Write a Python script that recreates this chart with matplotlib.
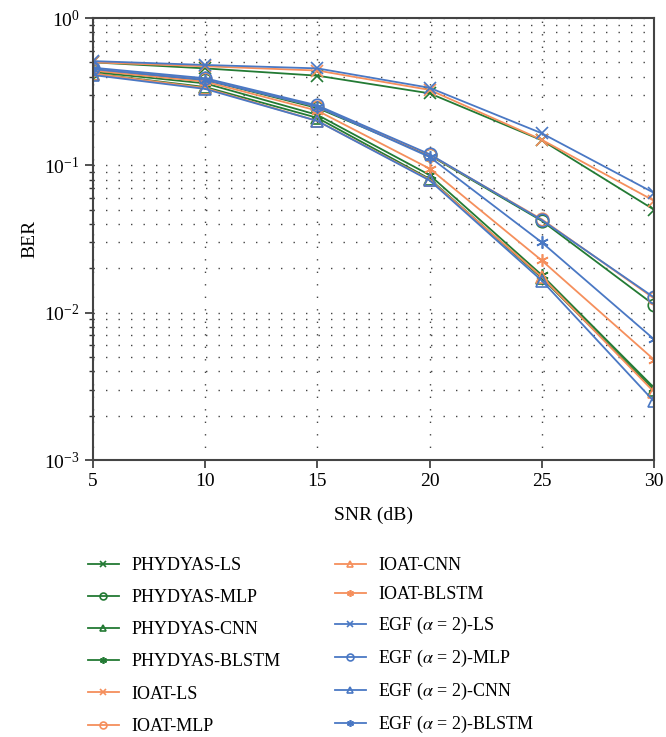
import matplotlib
matplotlib.use("Agg")
import matplotlib.pyplot as plt
import numpy as np

plt.rcParams['font.family'] = ['Liberation Serif', 'DejaVu Serif']
plt.rcParams['mathtext.fontset'] = 'stix'

snr = [5, 10, 15, 20, 25, 30]

labels = ["PHYDYAS-LS", "PHYDYAS-MLP", "PHYDYAS-CNN", "PHYDYAS-BLSTM",
          "IOAT-LS", "IOAT-MLP", "IOAT-CNN", "IOAT-BLSTM",
          r"EGF ($\alpha$ = 2)-LS", r"EGF ($\alpha$ = 2)-MLP",
          r"EGF ($\alpha$ = 2)-CNN", r"EGF ($\alpha$ = 2)-BLSTM"]

phydyas_ls = [0.50, 0.455, 0.406, 0.308, 0.148, 0.050]
phydyas_mlp = [0.44, 0.38, 0.245, 0.117, 0.042, 0.0113]
phydyas_cnn = [0.42, 0.34, 0.21, 0.081, 0.0172, 0.0030]
phydyas_blstm = [0.43, 0.36, 0.22, 0.086, 0.018, 0.0031]
ioat_ls = [0.50, 0.47, 0.44, 0.325, 0.149, 0.0575]
ioat_mlp = [0.45, 0.385, 0.25, 0.118, 0.043, 0.0125]
ioat_cnn = [0.42, 0.335, 0.20, 0.080, 0.0175, 0.0029]
ioat_blstm = [0.44, 0.37, 0.235, 0.095, 0.0226, 0.0048]
egf_ls = [0.51, 0.48, 0.455, 0.336, 0.165, 0.065]
egf_mlp = [0.46, 0.39, 0.255, 0.119, 0.0425, 0.0127]
egf_cnn = [0.41, 0.33, 0.20, 0.079, 0.0165, 0.0025]
egf_blstm = [0.45, 0.38, 0.25, 0.114, 0.030, 0.0066]

series = [phydyas_ls, phydyas_mlp, phydyas_cnn, phydyas_blstm,
          ioat_ls, ioat_mlp, ioat_cnn, ioat_blstm,
          egf_ls, egf_mlp, egf_cnn, egf_blstm]

green = '#237a34'
orange = '#f58f5c'
blue = '#4a78c4'
colors = [green] * 4 + [orange] * 4 + [blue] * 4
asterisk = (6, 2, 0)
markers = ['x', 'o', '^', asterisk] * 3

fig = plt.figure(figsize=(6.66, 7.37), dpi=100)
ax = fig.add_axes([93 / 666, 1 - 460 / 737, (654 - 93) / 666, (460 - 18) / 737])

handles = []
for vals, lab, c, m in zip(series, labels, colors, markers):
    h, = ax.plot(snr, vals, color=c, marker=m, markersize=9, markerfacecolor='none',
                 markeredgecolor=c, markeredgewidth=1.2, linewidth=1.3, label=lab)
    handles.append(h)

ax.set_yscale('log')
ax.set_xlim(5, 30)
ax.set_ylim(1e-3, 1)
ax.set_xticks([5, 10, 15, 20, 25, 30])
ax.set_xlabel('SNR (dB)', fontsize=14, labelpad=12)
ax.set_ylabel('BER', fontsize=14, labelpad=4)
ax.tick_params(axis='both', which='major', labelsize=14, direction='out',
               length=6, width=1.2, color='#333333')
ax.tick_params(axis='y', which='minor', direction='out', length=3, width=1.0,
               color='#333333')
ax.tick_params(axis='x', which='minor', bottom=False)
for s in ax.spines.values():
    s.set_color('#444444')
    s.set_linewidth(1.5)

ax.grid(True, axis='x', which='major', linestyle=(0, (1, 8)), color='#444444', linewidth=1.0)
ax.grid(True, axis='y', which='both', linestyle=(0, (1, 8)), color='#444444', linewidth=1.0)

common = dict(loc='upper left', bbox_transform=fig.transFigure, frameon=False,
              fontsize=13, markerscale=0.55, handlelength=1.7, borderpad=0,
              borderaxespad=0, handletextpad=0.7)

leg1 = ax.legend(handles[:6], labels[:6], bbox_to_anchor=(88 / 666, 1 - 557 / 737),
                 labelspacing=0.84, **common)
ax.add_artist(leg1)
leg2 = ax.legend(handles[6:], labels[6:], bbox_to_anchor=(335 / 666, 1 - 557 / 737),
                 labelspacing=0.66, **common)

fig.savefig('out.png', dpi=100)
